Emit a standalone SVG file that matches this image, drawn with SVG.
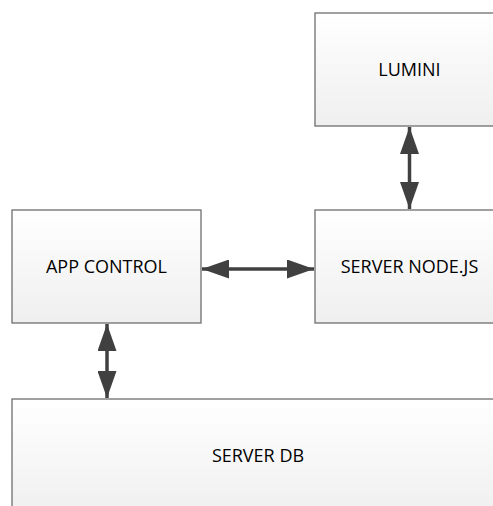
<svg xmlns="http://www.w3.org/2000/svg" width="493" height="506" viewBox="0 0 493 506">
<defs>
<linearGradient id="g" x1="0" y1="0" x2="0" y2="1">
<stop offset="0" stop-color="#ffffff"/>
<stop offset="1" stop-color="#efefef"/>
</linearGradient>
<marker id="ah" viewBox="0 0 27 19" refX="27" refY="9.5" markerWidth="27" markerHeight="19" markerUnits="userSpaceOnUse" orient="auto-start-reverse">
<path d="M0,0 L27,9.5 L0,19 Z" fill="#404040"/>
</marker>
</defs>
<style>
.box{fill:url(#g);stroke:#6e6e6e;stroke-width:1.3}
.lbl{font-family:"Open Sans","Noto Sans","Liberation Sans",sans-serif;font-size:18px;fill:#000;text-anchor:middle}
.con{stroke:#404040;stroke-width:3.5;fill:none;marker-start:url(#ah);marker-end:url(#ah)}
</style>
<rect width="493" height="506" fill="#ffffff"/>
<g id="lumini">
<rect class="box" x="315" y="13" width="189" height="113"/>
<text class="lbl" x="409.5" y="76">LUMINI</text>
</g>
<g id="server-node">
<rect class="box" x="315" y="210" width="189" height="113"/>
<text class="lbl" x="409.5" y="273">SERVER NODE.JS</text>
</g>
<g id="app-control">
<rect class="box" x="12" y="210" width="189" height="113"/>
<text class="lbl" x="106.5" y="273">APP CONTROL</text>
</g>
<g id="server-db">
<rect class="box" x="12" y="399" width="492" height="120"/>
<text class="lbl" x="258" y="462">SERVER DB</text>
</g>
<g id="connectors">
<line class="con" x1="409.5" y1="127" x2="409.5" y2="209"/>
<line class="con" x1="202" y1="269" x2="314" y2="269"/>
<line class="con" x1="107" y1="324" x2="107" y2="398"/>
</g>
</svg>
